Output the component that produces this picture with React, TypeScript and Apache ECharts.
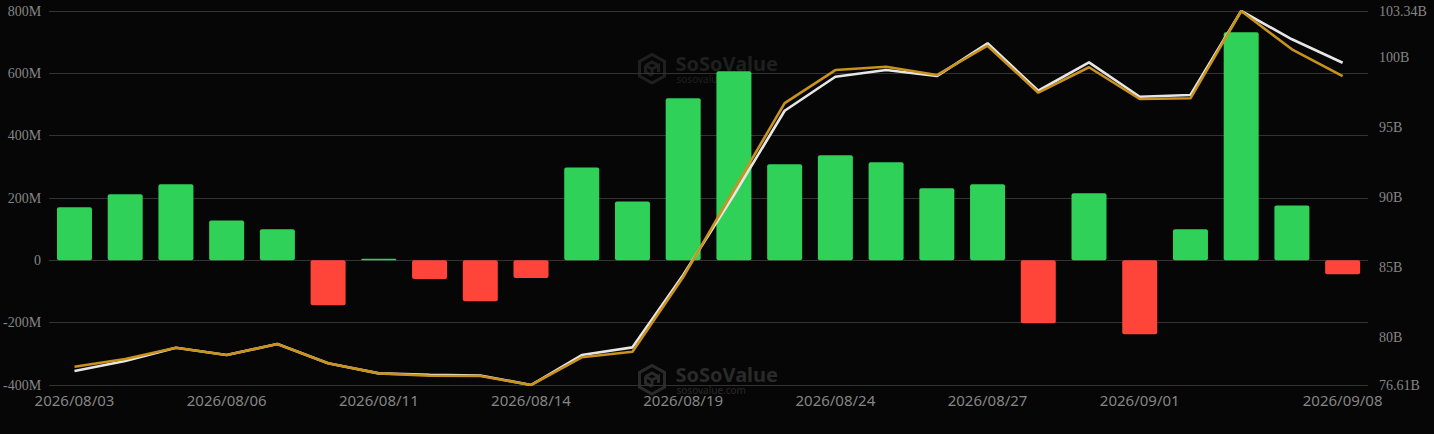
import * as echarts from "echarts";
import { useEffect, useRef } from "react";

const BG = "#060606";
const GRID_LINE = "#333333";
const LABEL = "#858585";
const GREEN = "#30d158";
const RED = "#ff453a";
const WHITE_LINE = "#e6e6e6";
const GOLD_LINE = "#c8921c";

const dates = [
  "2026/08/03", "2026/08/04", "2026/08/05", "2026/08/06", "2026/08/07",
  "2026/08/10", "2026/08/11", "2026/08/12", "2026/08/13", "2026/08/14",
  "2026/08/17", "2026/08/18", "2026/08/19", "2026/08/20", "2026/08/21",
  "2026/08/24", "2026/08/25", "2026/08/26", "2026/08/27", "2026/08/28",
  "2026/08/31", "2026/09/01", "2026/09/02", "2026/09/03", "2026/09/04",
  "2026/09/08",
];

const shownDates = [
  "2026/08/03", "2026/08/06", "2026/08/11", "2026/08/14", "2026/08/19",
  "2026/08/24", "2026/08/27", "2026/09/01", "2026/09/08",
];

// daily net flow, in millions
const netFlow = [
  170, 212, 244, 128, 100, -144, 5, -60, -131, -57, 298, 189, 520,
  607, 308, 337, 315, 231, 244, -202, 215, -237, 100, 732, 176, -45,
];

// both in billions, right axis
const whiteSeries = [
  77.61, 78.32, 79.27, 78.75, 79.54, 78.16, 77.44, 77.34, 77.29, 76.61, 78.75, 79.3, 84.47,
  90.19, 96.21, 98.64, 99.12, 98.69, 101.03, 97.64, 99.67, 97.21, 97.34, 103.34, 101.32, 99.64,
];
const goldSeries = [
  77.91, 78.47, 79.27, 78.75, 79.54, 78.16, 77.44, 77.27, 77.25, 76.61, 78.59, 78.99, 84.33,
  90.55, 96.76, 99.12, 99.35, 98.76, 100.86, 97.5, 99.32, 97.05, 97.1, 103.34, 100.6, 98.69,
];

const RIGHT_MIN = 76.61;
const RIGHT_MAX = 103.34;

echarts.graphic.registerShape(
  "sosoLogo",
  echarts.graphic.extendPath(
    "M13.5 1.5 L26 8.5 V23 L13.5 30 L1 23 V8.5 Z M7 12.5 L13.5 9 L20 12.5 M7 12.5 V19 L13.5 22.5 M13.5 16 V22.5 M13.5 16 L20 12.5 V19 M7 12.5 L13.5 16",
    {},
  ),
);

function watermark(top: number, color: string) {
  return {
    type: "group",
    left: 637,
    top,
    silent: true,
    children: [
      { type: "sosoLogo", x: 0, y: 0, style: { fill: "none", stroke: color, lineWidth: 3 } },
      {
        type: "text",
        x: 37,
        y: 0,
        style: { text: "SoSoValue", fill: color, font: "bold 20px 'Noto Sans'" },
      },
      {
        type: "text",
        x: 38,
        y: 21,
        style: { text: "sosovalue.com", fill: color, font: "10px 'Noto Sans'" },
      },
    ],
  };
}

function buildOption() {
  const serifLabel = { color: LABEL, fontFamily: "'Liberation Serif'", fontSize: 14, padding: [0, 0, 6, 0] };
  return {
    animation: false,
    backgroundColor: BG,
    graphic: [watermark(52, "#1f1f1f"), watermark(363, "#2a2a2a")],
    grid: { left: 48, right: 66, top: 11, bottom: 49 },
    xAxis: {
      type: "category",
      data: dates,
      axisLine: { show: false },
      axisTick: { show: false },
      axisLabel: {
        color: LABEL,
        fontFamily: "'Noto Sans'",
        fontSize: 15,
        margin: 7,
        interval: (i: number) => shownDates.includes(dates[i]),
      },
    },
    yAxis: [
      {
        type: "value",
        min: -400,
        max: 800,
        interval: 200,
        axisLine: { show: false },
        axisTick: { show: false },
        splitLine: { lineStyle: { color: GRID_LINE, width: 1 } },
        axisLabel: { ...serifLabel, margin: 8, formatter: (v: number) => (v === 0 ? "0" : `${v}M`) },
      },
      {
        type: "value",
        min: RIGHT_MIN,
        max: RIGHT_MAX,
        splitNumber: 5,
        position: "right",
        axisLine: { show: false },
        axisTick: { show: false },
        splitLine: { show: false },
        axisLabel: { ...serifLabel, margin: 11, formatter: (v: number) => `${v}B` },
      },
    ],
    series: [
      {
        type: "bar",
        data: netFlow,
        barWidth: 35,
        itemStyle: {
          borderRadius: 2,
          color: (p: { value: number }) => (p.value >= 0 ? GREEN : RED),
        },
      },
      {
        type: "line",
        yAxisIndex: 1,
        data: whiteSeries,
        symbol: "none",
        lineStyle: { color: WHITE_LINE, width: 2.6 },
      },
      {
        type: "line",
        yAxisIndex: 1,
        data: goldSeries,
        symbol: "none",
        lineStyle: { color: GOLD_LINE, width: 2.6 },
      },
    ],
  };
}

export default function App() {
  const ref = useRef<HTMLDivElement>(null);

  useEffect(() => {
    document.body.style.margin = "0";
    document.body.style.background = BG;
    const el = ref.current;
    if (!el) return;
    const chart = echarts.init(el, undefined, { renderer: "svg" });
    chart.setOption(buildOption() as any);
    return () => chart.dispose();
  }, []);

  return <div ref={ref} style={{ width: 1434, height: 434 }} />;
}
